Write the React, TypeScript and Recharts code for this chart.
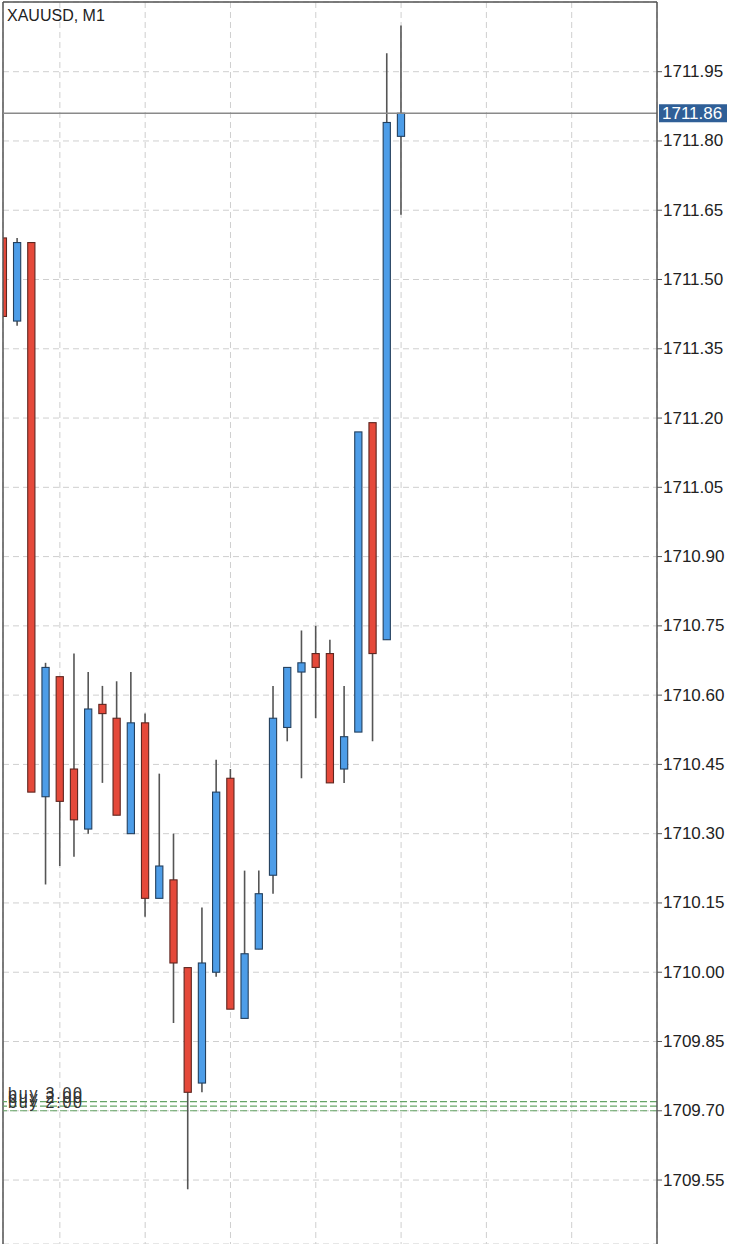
import React from "react";
import {
  ComposedChart,
  Bar,
  XAxis,
  YAxis,
  CartesianGrid,
  ReferenceLine,
} from "recharts";

const symbol = "XAUUSD, M1";

// one entry per M1 candle, oldest first
const opens = [
  1711.59, 1711.41, 1711.58, 1710.38, 1710.64, 1710.44, 1710.31, 1710.58, 1710.55, 1710.3,
  1710.54, 1710.16, 1710.2, 1710.01, 1709.76, 1710.0, 1710.42, 1709.9, 1710.05, 1710.21,
  1710.53, 1710.65, 1710.69, 1710.69, 1710.44, 1710.52, 1711.19, 1710.72, 1711.81,
];
const highs = [
  1711.59, 1711.59, 1711.58, 1710.67, 1710.64, 1710.69, 1710.65, 1710.62, 1710.63, 1710.65,
  1710.56, 1710.43, 1710.3, 1710.01, 1710.14, 1710.46, 1710.44, 1710.22, 1710.22, 1710.62,
  1710.66, 1710.74, 1710.75, 1710.72, 1710.62, 1711.17, 1711.19, 1711.99, 1712.05,
];
const lows = [
  1711.42, 1711.4, 1710.39, 1710.19, 1710.23, 1710.25, 1710.3, 1710.41, 1710.34, 1710.3,
  1710.12, 1710.16, 1709.89, 1709.53, 1709.74, 1709.99, 1709.92, 1709.9, 1710.05, 1710.17,
  1710.5, 1710.42, 1710.55, 1710.41, 1710.41, 1710.52, 1710.5, 1710.72, 1711.64,
];
const closes = [
  1711.42, 1711.58, 1710.39, 1710.66, 1710.37, 1710.33, 1710.57, 1710.56, 1710.34, 1710.54,
  1710.16, 1710.23, 1710.02, 1709.74, 1710.02, 1710.39, 1709.92, 1710.04, 1710.17, 1710.55,
  1710.66, 1710.67, 1710.66, 1710.41, 1710.51, 1711.17, 1710.69, 1711.84, 1711.86,
];

const priceTicks = [
  1711.95, 1711.8, 1711.65, 1711.5, 1711.35, 1711.2, 1711.05, 1710.9, 1710.75, 1710.6,
  1710.45, 1710.3, 1710.15, 1710.0, 1709.85, 1709.7, 1709.55,
];
const timeGridTicks = [4, 10, 16, 22, 28, 34, 40];
const slotCount = 46;
const priceDomain = [1709.4115, 1712.1009];

const buyPrices = [1709.72, 1709.71, 1709.7];
const buyLabels = ["buy 3.00", "buy 2.00", "buy 2.00"];

const lastPrice = closes[closes.length - 1];

const data = opens.map((o, i) => ({
  i,
  o,
  h: highs[i],
  l: lows[i],
  c: closes[i],
}));

const FONT = "'Liberation Sans', Arial, Helvetica, sans-serif";

function Candle(props: any) {
  const { x, y, width, height, payload } = props;
  if (x == null || y == null) return null;
  const top = Math.min(y, y + height);
  const bottom = Math.max(y, y + height);
  const cx = x + width / 2;
  const span = payload.h - payload.l;
  const k = span > 0 ? (bottom - top) / span : 0;
  const yO = top + (payload.h - payload.o) * k;
  const yC = top + (payload.h - payload.c) * k;
  const up = payload.c >= payload.o;
  const bodyTop = Math.min(yO, yC);
  const bodyH = Math.max(Math.abs(yC - yO), 1);
  return (
    <g>
      <line x1={cx} x2={cx} y1={top} y2={bottom} stroke="#555" strokeWidth={1.6} />
      <rect
        x={cx - 3.6}
        y={bodyTop}
        width={7.2}
        height={bodyH}
        fill={up ? "#4d9de8" : "#e5493a"}
        stroke={up ? "#24405e" : "#5e2620"}
        strokeWidth={1.1}
      />
    </g>
  );
}

function PriceTag(props: any) {
  const vb = props.viewBox;
  if (!vb) return null;
  const x = vb.x + vb.width + 2;
  const y = vb.y;
  return (
    <g>
      <rect x={x} y={y - 9} width={68} height={18} fill="#2f5f97" />
      <text
        x={x + 3}
        y={y}
        fill="#ffffff"
        fontSize={17}
        fontFamily={FONT}
        dominantBaseline="central"
      >
        {lastPrice.toFixed(2)}
      </text>
    </g>
  );
}

function BuyTag(props: any) {
  const vb = props.viewBox;
  if (!vb) return null;
  return (
    <text
      x={vb.x + 5}
      y={vb.y - 3}
      fill="#333"
      fontSize={16}
      letterSpacing={1.8}
      fontFamily={FONT}
    >
      {props.text}
    </text>
  );
}

function PriceTick(props: any) {
  const { x, y, payload } = props;
  return (
    <g>
      <line x1={x - 6} x2={x - 1} y1={y} y2={y} stroke="#555" strokeWidth={1} />
      <text x={x} y={y} fill="#222" fontSize={17} fontFamily={FONT} dominantBaseline="central">
        {Number(payload.value).toFixed(2)}
      </text>
    </g>
  );
}

export default function App() {
  return (
    <div style={{ width: 733, height: 1244, overflow: "hidden", position: "relative", background: "#fff" }}>
      <style>{"body{margin:0;}"}</style>
      <ComposedChart
        width={733}
        height={1244}
        data={data}
        margin={{ top: 2, right: 0, left: 3, bottom: 0 }}
      >
        <CartesianGrid stroke="#cfcfcf" strokeDasharray="6 4" strokeWidth={1} />
        <XAxis
          dataKey="i"
          type="number"
          domain={[0, slotCount]}
          ticks={timeGridTicks}
          allowDataOverflow
          hide
        />
        <YAxis
          orientation="right"
          width={76}
          domain={priceDomain}
          ticks={priceTicks}
          allowDataOverflow
          axisLine={{ stroke: "#555", strokeWidth: 1.5 }}
          tickLine={false}
          tick={<PriceTick />}
          tickMargin={0}
          interval={0}
        />
        <ReferenceLine x={0} stroke="#555" strokeWidth={1.5} />
        <ReferenceLine y={priceDomain[1]} stroke="#555" strokeWidth={1.5} />
        {buyPrices.map((p, k) => (
          <ReferenceLine
            key={k}
            y={p}
            stroke="#66a466"
            strokeDasharray="7 3"
            strokeWidth={1.2}
            label={<BuyTag text={buyLabels[k]} />}
          />
        ))}
        <ReferenceLine y={lastPrice} stroke="#8a8a8a" strokeWidth={1.3} label={<PriceTag />} />
        <Bar
          dataKey={(d: any) => [d.l, d.h]}
          barSize={8}
          shape={<Candle />}
          isAnimationActive={false}
        />
      </ComposedChart>
      <div
        style={{
          position: "absolute",
          left: 7,
          top: 8,
          fontFamily: FONT,
          fontSize: 16,
          lineHeight: 1,
          color: "#222",
        }}
      >
        {symbol}
      </div>
    </div>
  );
}
